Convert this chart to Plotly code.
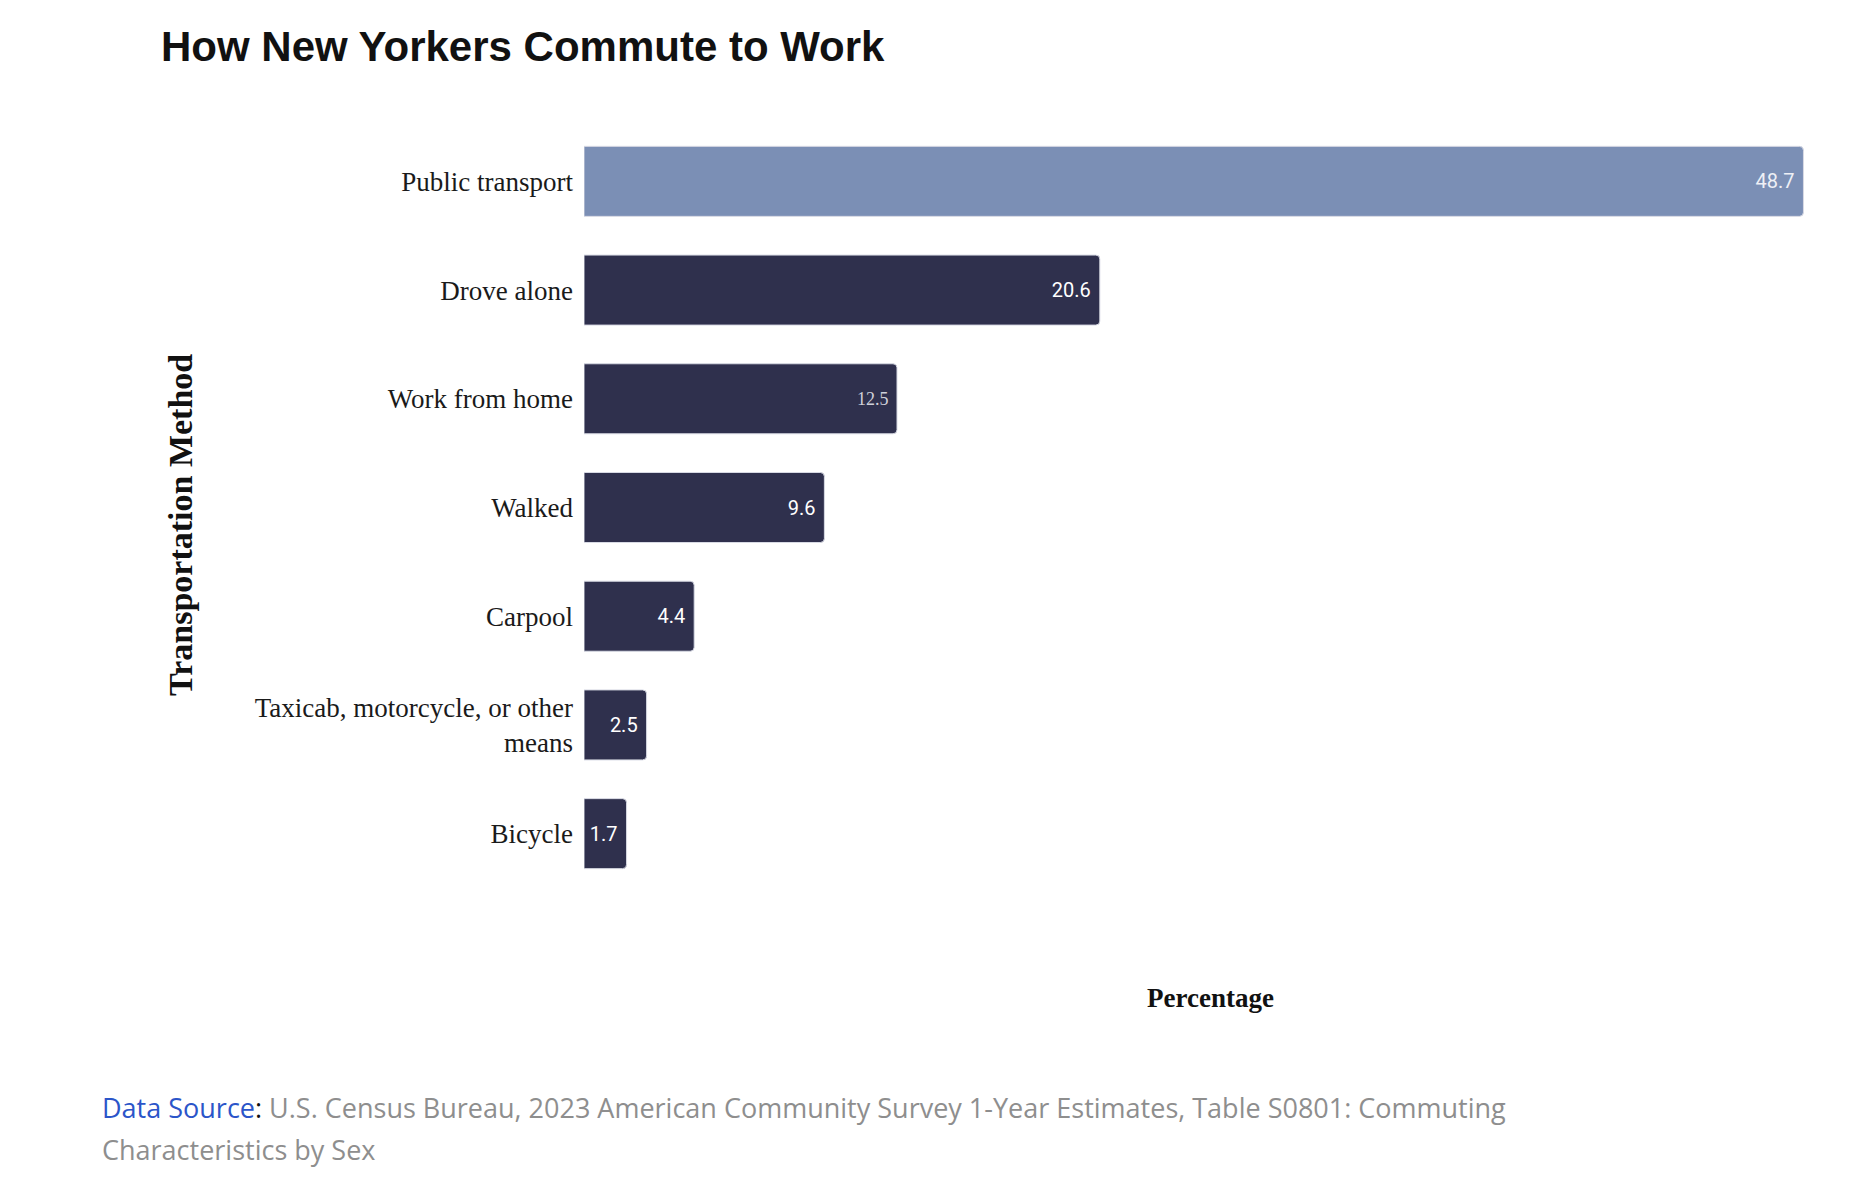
import plotly.graph_objects as go

# commute shares, NYC 2023 ACS (percent)
methods = ['Public transport', 'Drove alone', 'Work from home', 'Walked', 'Carpool',
           'Taxicab, motorcycle, or other<br>means', 'Bicycle']
share = [48.7, 20.6, 12.5, 9.6, 4.4, 2.5, 1.7]
labels = ['48.7', '20.6', '12.5', '9.6', '4.4', '2.5', '1.7']

highlight = '#7B8FB5'
dark = '#2F304D'
bar_colors = [highlight if i == 0 else dark for i in range(len(methods))]
txt_fonts = ['Roboto'] * len(methods)
txt_fonts[2] = 'Liberation Serif'
txt_colors = ['#EEF0F6'] + ['#FFFFFF'] * (len(methods) - 1)
txt_colors[2] = '#CFD0DA'
txt_sizes = [20] * len(methods)
txt_sizes[2] = 18

fig = go.Figure()
fig.add_trace(go.Bar(x=share, y=methods, orientation='h',
                     marker=dict(color=bar_colors, line=dict(color='#D8DAE4', width=1)),
                     text=[t + '\u00a0' for t in labels],
                     textposition='inside', insidetextanchor='end',
                     textfont=dict(family=txt_fonts, color=txt_colors, size=txt_sizes),
                     hoverinfo='x+y', showlegend=False))

fig.update_layout(
    width=1868, height=1188,
    margin=dict(l=584, r=32, t=127, b=300),
    plot_bgcolor='white', paper_bgcolor='white',
    bargap=0.356, barcornerradius=4,
    title=dict(text='<b>How New Yorkers Commute to Work</b>',
               font=dict(family='Liberation Sans, Arial', size=42, color='#111111'),
               xref='container', yref='container', x=161/1868, xanchor='left',
               y=1-46/1188, yanchor='middle'),
)
fig.update_xaxes(range=[0, 50], showticklabels=False, showgrid=False, zeroline=False,
                 showline=False)
fig.update_yaxes(range=[6.5, -0.5], showgrid=False, zeroline=False, showline=False,
                 ticks='', ticklabelstandoff=10,
                 tickfont=dict(family='Liberation Serif', size=27, color='#1a1a1a'))

fig.add_annotation(text='<b>Transportation Method</b>', textangle=-90,
                   xref='paper', yref='paper', x=(180-584)/1252, y=(888-525)/761,
                   xanchor='center', yanchor='middle', showarrow=False,
                   font=dict(family='Liberation Serif', size=34, color='#111111'))
fig.add_annotation(text='<b>Percentage</b>',
                   xref='paper', yref='paper', x=(1210-584)/1252, y=(888-998)/761,
                   xanchor='center', yanchor='middle', showarrow=False,
                   font=dict(family='Liberation Serif', size=27, color='#111111'))

# footer, two separate lines for the wider line spacing
fig.add_annotation(text="<span style='color:#2B55C9'>Data Source</span>:"
                        " <span style='color:#8E8E8E'>U.S. Census Bureau, 2023 American Community Survey"
                        " 1-Year Estimates, Table S0801: Commuting</span>",
                   xref='paper', yref='paper', x=(100-584)/1252, y=(888-1107)/761,
                   xanchor='left', yanchor='middle', align='left', showarrow=False,
                   font=dict(family='Open Sans', size=27, color='#111111'))
fig.add_annotation(text='Characteristics by Sex',
                   xref='paper', yref='paper', x=(100-584)/1252, y=(888-1149)/761,
                   xanchor='left', yanchor='middle', align='left', showarrow=False,
                   font=dict(family='Open Sans', size=27, color='#8E8E8E'))

fig.write_html("out.html", config={'displayModeBar': False},
               post_script="document.body.style.margin='0';")
